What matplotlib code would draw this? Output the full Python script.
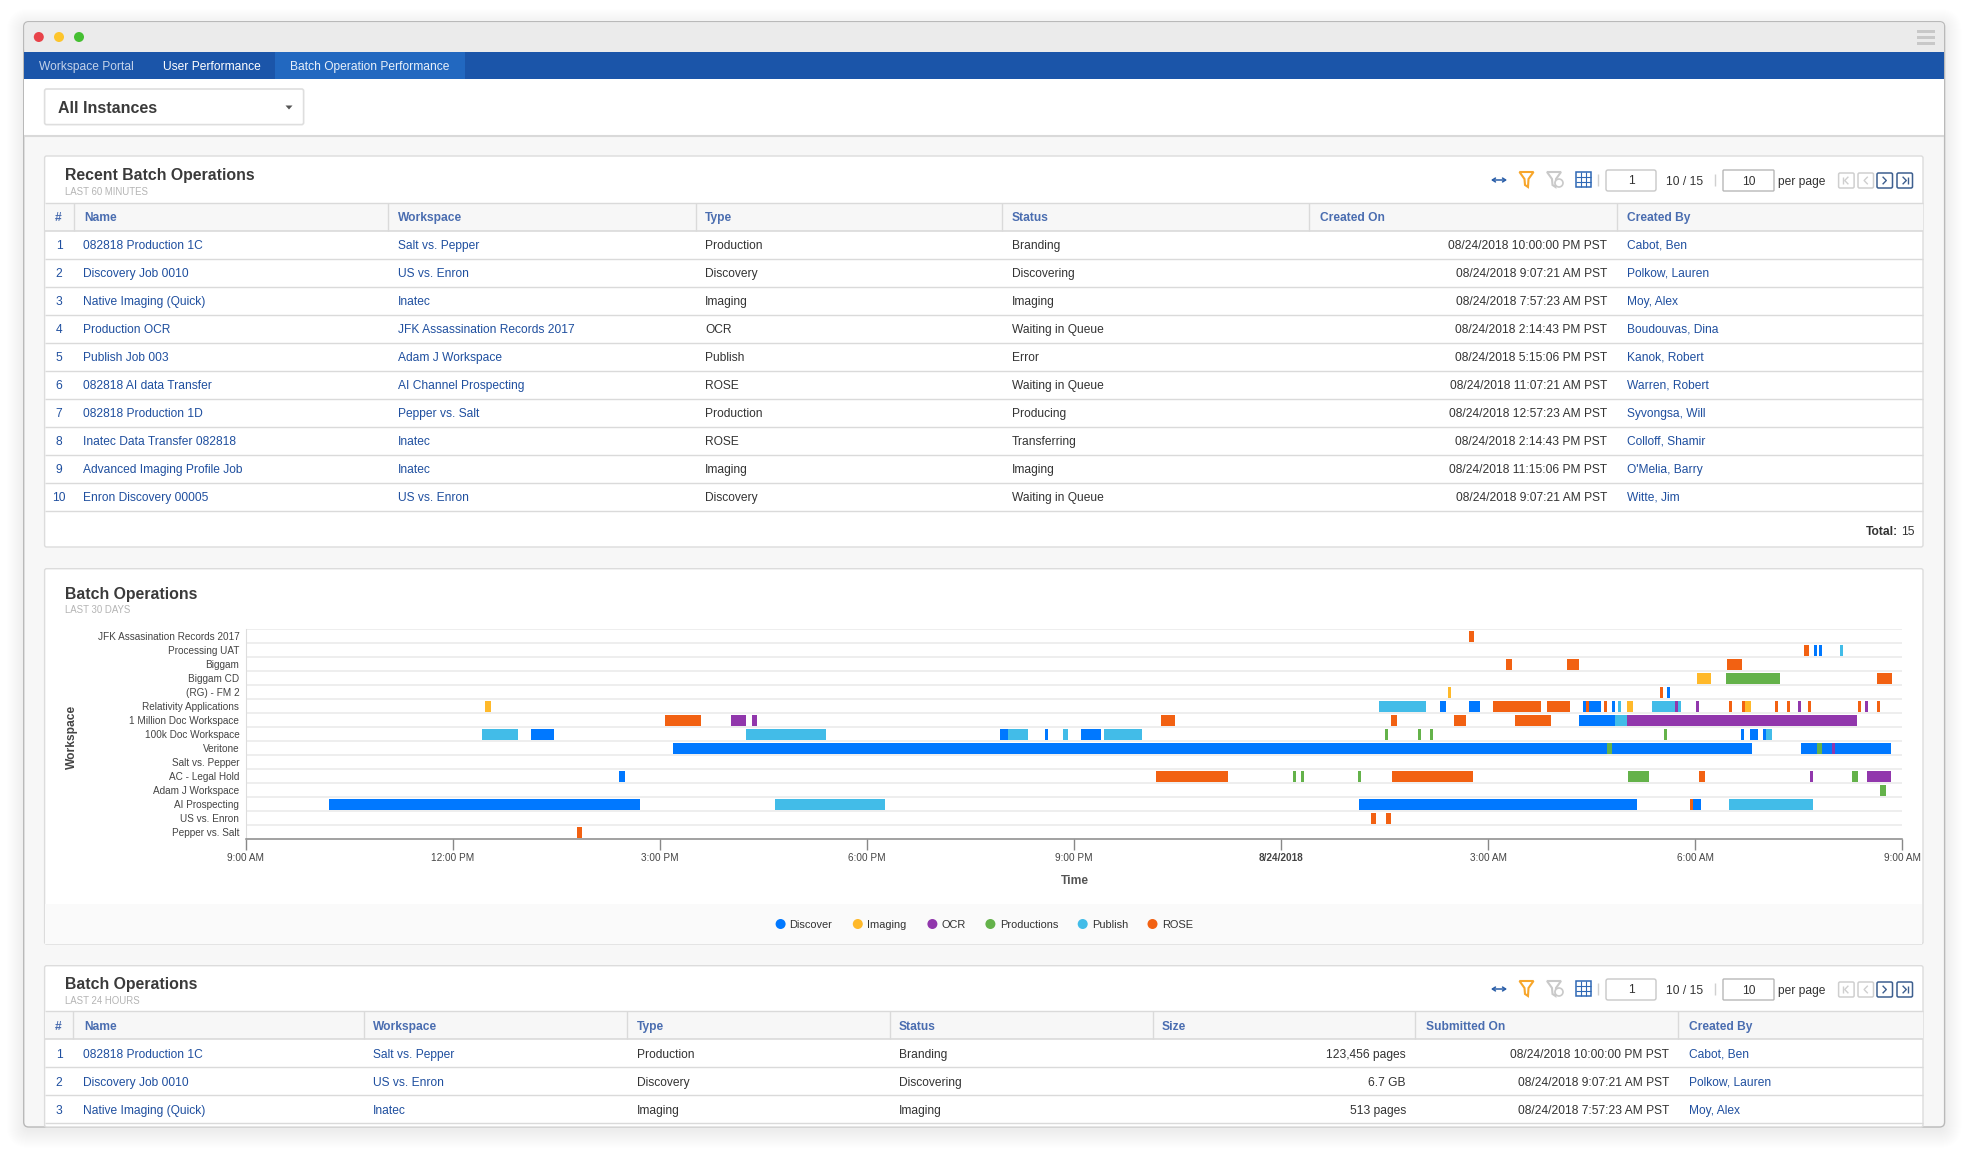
import matplotlib
matplotlib.use('Agg')
import matplotlib.pyplot as plt
from matplotlib.patches import FancyBboxPatch, Rectangle, Circle, Polygon

plt.rcParams['font.family'] = ['Liberation Sans', 'DejaVu Sans']

W, H = 1968, 1151

# ---- chart data: (workspace row, start, end), hours after 9:00 AM on 8/23 ----
workspaces = ['JFK Assasination Records 2017', 'Processing UAT', 'Biggam', 'Biggam CD',
              '(RG) - FM 2', 'Relativity Applications', '1 Million Doc Workspace',
              '100k Doc Workspace', 'Veritone', 'Salt vs. Pepper', 'AC - Legal Hold',
              'Adam J Workspace', 'AI Prospecting', 'US vs. Enron', 'Pepper vs. Salt']

discover = [(1, 22.72, 22.76), (1, 22.79, 22.84), (4, 20.59, 20.63), (5, 17.30, 17.39),
            (5, 17.72, 17.88), (5, 19.37, 19.64), (5, 19.79, 19.84), (6, 19.32, 19.84),
            (7, 4.13, 4.47), (7, 10.93, 11.04), (7, 11.58, 11.62), (7, 12.10, 12.39),
            (7, 21.66, 21.71), (7, 21.79, 21.91), (7, 21.98, 22.03), (8, 6.19, 21.82),
            (8, 22.53, 23.84), (10, 5.41, 5.50), (12, 1.21, 5.71), (12, 16.13, 20.16),
            (12, 20.97, 21.08)]
publish = [(1, 23.10, 23.14), (5, 16.42, 17.10), (5, 19.88, 19.93), (5, 20.37, 20.79),
           (6, 19.84, 20.01), (7, 3.42, 3.95), (7, 7.25, 8.41), (7, 11.04, 11.33),
           (7, 11.84, 11.91), (7, 12.44, 12.99), (7, 22.03, 22.11), (12, 7.67, 9.26),
           (12, 21.49, 22.71)]
productions = [(3, 21.45, 22.23), (7, 16.50, 16.55), (7, 16.98, 17.03), (7, 17.16, 17.20),
               (7, 20.55, 20.59), (8, 19.72, 19.79), (8, 22.76, 22.84), (10, 15.17, 15.21),
               (10, 15.29, 15.33), (10, 16.11, 16.16), (10, 20.03, 20.33), (10, 23.27, 23.36),
               (11, 23.68, 23.76)]
ocr = [(5, 20.71, 20.75), (5, 21.01, 21.06), (5, 22.49, 22.53), (5, 23.46, 23.50),
       (6, 7.03, 7.25), (6, 7.34, 7.41), (6, 20.01, 23.34), (8, 22.98, 23.03),
       (10, 22.66, 22.71), (10, 23.49, 23.84)]
imaging = [(3, 21.03, 21.23), (4, 17.42, 17.46), (5, 3.47, 3.56), (5, 20.01, 20.10),
           (5, 21.72, 21.81)]
rose = [(0, 17.72, 17.80), (1, 22.58, 22.65), (2, 18.26, 18.35), (2, 19.14, 19.32),
        (2, 21.46, 21.68), (3, 23.63, 23.85), (4, 20.49, 20.53), (5, 18.07, 18.77),
        (5, 18.85, 19.19), (5, 19.42, 19.46), (5, 19.68, 19.72), (5, 21.49, 21.53),
        (5, 21.68, 21.72), (5, 22.16, 22.20), (5, 22.33, 22.37), (5, 22.63, 22.68),
        (5, 23.36, 23.40), (5, 23.63, 23.68), (6, 6.08, 6.60), (6, 13.26, 13.46),
        (6, 16.59, 16.68), (6, 17.51, 17.68), (6, 18.39, 18.91), (10, 13.19, 14.23),
        (10, 16.61, 17.78), (10, 21.06, 21.14), (12, 20.92, 20.97), (13, 16.30, 16.38),
        (13, 16.52, 16.59), (14, 4.80, 4.87)]

time_ticks = [0, 3, 6, 9, 12, 15, 18, 21, 24]
time_labels = ['9:00 AM', '12:00 PM', '3:00 PM', '6:00 PM', '9:00 PM', '8/24/2018',
               '3:00 AM', '6:00 AM', '9:00 AM']

# ---- table data ----
recent_names = ['082818 Production 1C', 'Discovery Job 0010', 'Native Imaging (Quick)',
                'Production OCR', 'Publish Job 003', '082818 AI data Transfer',
                '082818 Production 1D', 'Inatec Data Transfer 082818',
                'Advanced Imaging Profile Job', 'Enron Discovery 00005']
recent_workspaces = ['Salt vs. Pepper', 'US vs. Enron', 'Inatec', 'JFK Assassination Records 2017',
                     'Adam J Workspace', 'AI Channel Prospecting', 'Pepper vs. Salt', 'Inatec',
                     'Inatec', 'US vs. Enron']
recent_types = ['Production', 'Discovery', 'Imaging', 'OCR', 'Publish', 'ROSE', 'Production',
                'ROSE', 'Imaging', 'Discovery']
recent_status = ['Branding', 'Discovering', 'Imaging', 'Waiting in Queue', 'Error',
                 'Waiting in Queue', 'Producing', 'Transferring', 'Imaging', 'Waiting in Queue']
recent_created = ['08/24/2018 10:00:00 PM PST', '08/24/2018 9:07:21 AM PST',
                  '08/24/2018 7:57:23 AM PST', '08/24/2018 2:14:43 PM PST',
                  '08/24/2018 5:15:06 PM PST', '08/24/2018 11:07:21 AM PST',
                  '08/24/2018 12:57:23 AM PST', '08/24/2018 2:14:43 PM PST',
                  '08/24/2018 11:15:06 PM PST', '08/24/2018 9:07:21 AM PST']
recent_by = ['Cabot, Ben', 'Polkow, Lauren', 'Moy, Alex', 'Boudouvas, Dina', 'Kanok, Robert',
             'Warren, Robert', 'Syvongsa, Will', 'Colloff, Shamir', "O'Melia, Barry", 'Witte, Jim']

day_sizes = ['123,456 pages', '6.7 GB', '513 pages']

LINK = '#1f4f9f'
HEAD = '#4a6db0'
TEXT = '#333333'
LINE = '#dadada'

COLORS = {'Discover': '#0078ff', 'Imaging': '#ffb92a', 'OCR': '#9137ac',
          'Productions': '#64b24a', 'Publish': '#42bce8', 'ROSE': '#f26112'}

fig = plt.figure(figsize=(W / 100, H / 100), dpi=100, facecolor='white')
bg = fig.add_axes([0, 0, 1, 1])
bg.set_xlim(0, W)
bg.set_ylim(H, 0)
bg.axis('off')


def box(x0, y0, x1, y1, fc, ec='none', lw=0, r=0, z=1, alpha=None):
    if r:
        p = FancyBboxPatch((x0, y0), x1 - x0, y1 - y0, boxstyle=f'round,pad=0,rounding_size={r}',
                           fc=fc, ec=ec, lw=lw, zorder=z, alpha=alpha)
    else:
        p = Rectangle((x0, y0), x1 - x0, y1 - y0, fc=fc, ec=ec, lw=lw, zorder=z, alpha=alpha)
    bg.add_patch(p)


def txt(x, y, s, px=12, color=TEXT, ha='left', weight='normal'):
    # baseline anchor keeps rows level whether or not a string has descenders
    bg.text(x, y + 0.36 * px, s, fontsize=px * 0.72, color=color, ha=ha, va='baseline',
            fontweight=weight, zorder=10)


def hline(y, x0, x1, color=LINE, lw=1.0, z=3):
    bg.plot([x0, x1], [y, y], color=color, lw=lw, zorder=z, solid_capstyle='butt')


def vline(x, y0, y1, color=LINE, lw=1.0, z=3):
    bg.plot([x, x], [y0, y1], color=color, lw=lw, zorder=z, solid_capstyle='butt')


def panel_title(y_title, y_sub, title, sub):
    txt(65, y_title, title, px=15.85, weight='bold', color='#3a3a3a')
    txt(65, y_sub + 0.6, sub, px=9.6, color='#b4b4b4')


def pager_button(x0, y, col, stem_left=False, stem_right=False, flip=False):
    box(x0, y - 7, x0 + 15.5, y + 8, 'white', ec=col, lw=1.1, r=1.5, z=8)
    xc = x0 + 7.7
    d = -1.6 if flip else 1.6
    bg.plot([xc - d, xc + d, xc - d], [y - 2.8, y + 0.5, y + 3.8], color=col, lw=1.0, zorder=9)
    if stem_left:
        vline(xc - 3.5, y - 3, y + 4, color=col, z=9)
    if stem_right:
        vline(xc + 3.5, y - 3, y + 4, color=col, z=9)


def toolbar(y):
    # expand arrow
    bg.annotate('', xy=(1491, y), xytext=(1507, y), zorder=8,
                arrowprops=dict(arrowstyle='<->,head_width=0.14,head_length=0.22', color='#2a5ea8', lw=1.1,
                                shrinkA=0, shrinkB=0))
    # funnels
    for xc, col in ((1526.5, '#f7a62b'), (1554, '#c9c9c9')):
        f = [(xc - 7, y - 8), (xc + 7, y - 8), (xc + 2, y - 1), (xc + 1.5, y + 7),
             (xc - 1.5, y + 5), (xc - 2, y - 1)]
        bg.add_patch(Polygon(f, closed=True, fc='none', ec=col, lw=1.5, zorder=8))
    bg.add_patch(Circle((1559, y + 3), 4, fc='white', ec='#c9c9c9', lw=1.2, zorder=9))
    # column grid
    box(1576, y - 8, 1591, y + 7, 'none', ec='#2f68b5', lw=1.1, z=8)
    for dx in (5, 10):
        vline(1576 + dx, y - 8, y + 7, color='#2f68b5', lw=0.8, z=8)
    for dy in (-3, 2):
        hline(y + dy, 1576, 1591, color='#2f68b5', lw=0.8, z=8)
    vline(1598, y - 6, y + 6, color='#d0d0d0')
    box(1606, y - 10, 1656, y + 11, 'white', ec='#c8c8c8', lw=1, r=2, z=8)
    txt(1631, y, '1', ha='center')
    txt(1665.5, y + 0.5, '10 / 15')
    vline(1714.6, y - 6, y + 6, color='#d0d0d0')
    box(1723, y - 10, 1774, y + 11, 'white', ec='#b8b8b8', lw=1, r=1, z=8)
    txt(1749, y + 0.5, '10', ha='center')
    txt(1778.5, y + 0.5, 'per page')
    pager_button(1838.6, y, '#cfcfcf', stem_left=True, flip=True)
    pager_button(1858, y, '#cfcfcf', flip=True)
    pager_button(1877, y, '#3d5f8f')
    pager_button(1897, y, '#3d5f8f', stem_right=True)


def table_head(y0, y1, seps, heads):
    box(44.6, y0, 1923, y1, '#f7f7f7', z=2)
    hline(y0, 44.6, 1923)
    hline(y1, 44.6, 1923, lw=1.2)
    for x in seps:
        vline(x, y0, y1)
    for x, s in heads:
        txt(x, (y0 + y1) / 2, s, color=HEAD, weight='bold')


# ---- window shell ----
for i in range(18):
    box(23.7 - i, 21.7 - i + 4, 1944.6 + i, 1127 + i + 4, '#000000', r=6 + i, z=0.5, alpha=0.005)
box(23.7, 21.7, 1944.6, 1127, '#f7f7f7', ec='#b9b9b9', lw=1, r=5, z=1)
box(24.5, 22.3, 1944, 52, '#ebebeb', r=4, z=1.1)
box(24.5, 40, 1944, 52, '#ebebeb', z=1.1)
for xc, col in ((38.8, '#e8434a'), (59, '#fdc52c'), (79, '#45bf32')):
    bg.add_patch(Circle((xc, 37), 5, fc=col, ec='none', zorder=2))
for y0 in (30, 35.7, 41.7):
    box(1917, y0, 1935, y0 + 3.4, '#c8c8c8', z=2)

box(24.2, 52, 1944.2, 79, '#1b55a9', z=2)
box(275, 52, 465, 79, '#2268c0', z=2.1)
txt(38.8, 65.7, 'Workspace Portal', color='#c3d2e9')
txt(163.4, 65.7, 'User Performance', color='white')
txt(290.2, 65.7, 'Batch Operation Performance', color='#e8f0fa')

box(24.2, 79, 1944.2, 136, 'white', z=2)
hline(136.3, 24.2, 1944.2, color='#d9d9d9', lw=1.5)
box(44.6, 89, 303.6, 124.6, 'white', ec='#dedede', lw=1.2, r=2, z=3)
txt(58, 107.3, 'All Instances', px=16, weight='bold', color='#3a3a3a')
bg.add_patch(Polygon([(285.5, 105.5), (292.5, 105.5), (289, 109.5)], closed=True, fc='#555555', ec='none', zorder=4))

# ---- recent batch operations table ----
box(44.6, 156, 1923, 547, 'white', ec='#dcdcdc', lw=1, r=2, z=1.5)
panel_title(174.3, 190.7, 'Recent Batch Operations', 'LAST 60 MINUTES')
toolbar(180)
table_head(202.5, 230.5, [73.7, 388.4, 695.5, 1002, 1309.4, 1616.6],
           [(55, '#'), (84, 'Name'), (398, 'Workspace'), (705, 'Type'), (1011.6, 'Status'),
            (1320, 'Created On'), (1627, 'Created By')])
for i in range(10):
    yc = 244.5 + i * 28
    txt(59, yc, str(i + 1), color=LINK, ha='center')
    txt(83, yc, recent_names[i], color=LINK)
    txt(398, yc, recent_workspaces[i], color=LINK)
    txt(705, yc, recent_types[i])
    txt(1011.6, yc, recent_status[i])
    txt(1607, yc, recent_created[i], ha='right')
    txt(1627, yc, recent_by[i], color=LINK)
    hline(258.5 + i * 28, 44.6, 1923)
txt(1898, 530.7, 'Total:', ha='right', weight='bold')
txt(1915, 530.7, '15', ha='right')

# ---- gantt panel ----
box(44.6, 568.7, 1923, 944, 'white', ec='#dcdcdc', lw=1, r=2, z=1.5)
box(45.2, 904, 1922.4, 943.5, '#fafafa', z=1.6)
panel_title(593, 609, 'Batch Operations', 'LAST 30 DAYS')

x0, x1 = 245.6, 1902.3
y_top, y_bot = 629.3, 839.3
ax = fig.add_axes([x0 / W, 1 - y_bot / H, (x1 - x0) / W, (y_bot - y_top) / H])
ax.patch.set_alpha(0)
for col, ops in (('Discover', discover), ('Publish', publish), ('Productions', productions),
                 ('OCR', ocr), ('Imaging', imaging), ('ROSE', rose)):
    ax.barh([o[0] for o in ops], [o[2] - o[1] for o in ops], left=[o[1] for o in ops],
            height=0.785, color=COLORS[col], linewidth=0, zorder=3)
ax.set_xlim(0, 24)
ax.set_ylim(len(workspaces) - 0.5, -0.5)
ax.set_yticks(range(len(workspaces)))
ax.set_yticklabels(workspaces, fontsize=10 * 0.72, color='#444444')
ax.set_yticks([i + 0.5 for i in range(-1, len(workspaces) - 1)], minor=True)
ax.grid(True, which='minor', axis='y', color='#e9e9e9', lw=1.1, zorder=1)
ax.tick_params(axis='y', which='both', length=0, pad=4.5)
ax.set_xticks(time_ticks)
ax.set_xticklabels(time_labels, fontsize=10 * 0.72, color='#444444')
ax.get_xticklabels()[5].set_fontweight('bold')
ax.tick_params(axis='x', length=8, width=1, color='#888888', pad=1.8)
for side in ('top', 'right'):
    ax.spines[side].set_visible(False)
ax.spines['left'].set_color('#dddddd')
ax.spines['bottom'].set_color('#888888')
ax.spines['bottom'].set_linewidth(1.1)
bg.text(72, 737, 'Workspace', fontsize=12 * 0.72, color='#444444', rotation=90, ha='center', va='center',
        fontweight='bold', zorder=10)
txt(1075, 879.6, 'Time', ha='center', weight='bold', color='#555555')

# legend
for (dot, tx, name) in ((780.6, 789.6, 'Discover'), (857.8, 866.7, 'Imaging'), (932.4, 942, 'OCR'),
                        (990.4, 1000.6, 'Productions'), (1082.7, 1092, 'Publish'),
                        (1152.5, 1162.3, 'ROSE')):
    bg.add_patch(Circle((dot, 924), 5, fc=COLORS[name], ec='none', zorder=5))
    txt(tx, 924.3, name, px=11)

# ---- 24 hour table, cut off by the window ----
box(44.6, 965.7, 1923, 1127, 'white', ec='#dcdcdc', lw=1, r=2, z=1.5)
panel_title(983, 999.7, 'Batch Operations', 'LAST 24 HOURS')
toolbar(989)
table_head(1011.3, 1039.3, [73.3, 363.5, 627, 889.7, 1152.5, 1415.4, 1678.4],
           [(55, '#'), (84, 'Name'), (373, 'Workspace'), (637, 'Type'), (899, 'Status'),
            (1162, 'Size'), (1426.5, 'Submitted On'), (1689, 'Created By')])
for i in range(3):
    yc = 1053.3 + i * 28
    txt(59, yc, str(i + 1), color=LINK, ha='center')
    txt(83, yc, recent_names[i], color=LINK)
    txt(373, yc, recent_workspaces[i], color=LINK)
    txt(637, yc, recent_types[i])
    txt(899, yc, recent_status[i])
    txt(1406, yc, day_sizes[i], ha='right')
    txt(1669, yc, recent_created[i], ha='right')
    txt(1689, yc, recent_by[i], color=LINK)
    hline(1067.3 + i * 28, 44.6, 1923)

fig.savefig('out.png', dpi=100, facecolor='white')
